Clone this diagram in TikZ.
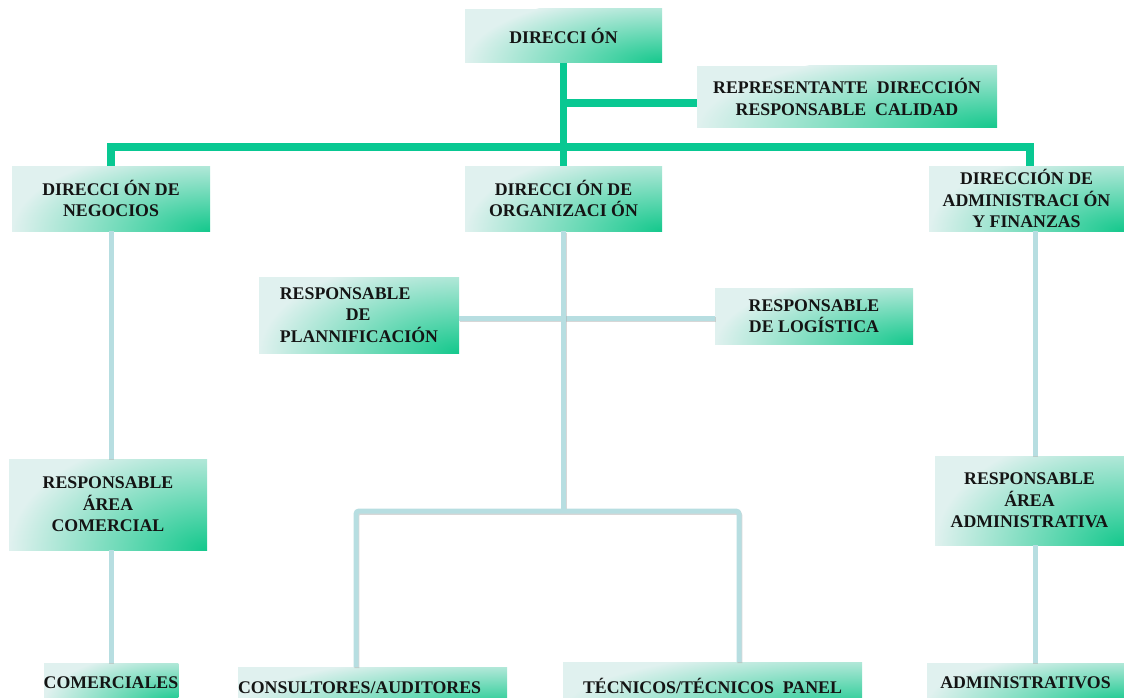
\documentclass[tikz,border=0pt]{standalone}
\usepackage{fontspec}
\setmainfont{Liberation Serif}
\usetikzlibrary{calc}
\definecolor{boxlight}{HTML}{E0F1EF}
\definecolor{boxgreen}{HTML}{14C88C}
\definecolor{glinec}{HTML}{08C892}
\definecolor{blinec}{HTML}{B7DEE1}
\newcommand\orgfont{\bfseries\fontsize{17.8}{21.5}\selectfont}
\newcommand\gap{\kern0.25em}
\tikzset{
  orgbox/.style={rectangle, inner sep=0pt, fill=boxlight, align=center,
    font=\orgfont, text=black!92,
    path picture={
      \shade[inner color=boxgreen, outer color=boxlight]
        let \p1=(path picture bounding box.south west),
            \p2=(path picture bounding box.north east) in
        (\x2,\y1) ellipse [x radius={\x2-\x1}, y radius={1.3*(\y2-\y1)}];
    }},
  gline/.style={draw=glinec, line width=7.5pt},
  bline/.style={draw=blinec, line width=5pt,
    preaction={draw=black!35, line width=5pt, opacity=0.45,
      transform canvas={shift={(0.8pt,-1.4pt)}}}},
}
\begin{document}
\begin{tikzpicture}[x=1pt,y=-1pt]
\useasboundingbox (0,0) rectangle (1124,698);
\clip (0,0) rectangle (1124,698);

% nodes
\node[orgbox, minimum width=197pt, minimum height=54pt] (dir) at (563.5,36)
  {DIRECCI\gap ÓN};
\node[orgbox, minimum width=300pt, minimum height=62pt] (rep) at (847,97)
  {REPRESENTANTE\ \ DIRECCIÓN\\RESPONSABLE\ \ CALIDAD};
\node[orgbox, minimum width=198pt, minimum height=65pt] (neg) at (111,198.5)
  {DIRECCI\gap ÓN DE\\NEGOCIOS};
\node[orgbox, minimum width=197pt, minimum height=65pt] (org) at (563.5,198.5)
  {DIRECCI\gap ÓN DE\\ORGANIZACI\gap ÓN};
\node[orgbox, minimum width=195pt, minimum height=65pt] (adm) at (1026.5,198.5)
  {DIRECCIÓN DE\\ADMINISTRACI\gap ÓN\\Y FINANZAS};
\node[orgbox, minimum width=200pt, minimum height=76pt, align=left] (pla) at (359,315)
  {RESPONSABLE\\\hspace*{66pt}DE\\PLANNIFICACIÓN};
\node[orgbox, minimum width=198pt, minimum height=56pt] (log) at (814,316)
  {RESPONSABLE\\DE LOGÍSTICA};
\node[orgbox, minimum width=198pt, minimum height=91pt] (rac) at (108,504.5)
  {RESPONSABLE\\ÁREA\\COMERCIAL};
\node[orgbox, minimum width=189pt, minimum height=89pt] (raa) at (1029.5,500.5)
  {RESPONSABLE\\ÁREA\\ADMINISTRATIVA};
\node[orgbox, minimum width=132pt, minimum height=40pt] (com) at (111,683)
  {COMERCIALES};
\node[orgbox, text width=269pt, minimum height=42pt, align=left] (con) at (372.5,688)
  {CONSULTORES/AUDITORES};
\node[orgbox, minimum width=299pt, minimum height=48pt] (tec) at (712.5,686)
  {TÉCNICOS/TÉCNICOS\ \ PANEL};
\node[orgbox, minimum width=197pt, minimum height=40pt] (adv) at (1025.5,683)
  {ADMINISTRATIVOS};

% helper coordinates
\coordinate (bar) at (0,147);
\coordinate (branch) at (0,103);
\coordinate (colL) at (111,0);
\coordinate (colG) at (1030,0);
\coordinate (colR) at (1035,0);
\coordinate (mid) at (0,318);
\coordinate (fork) at (0,511);
\coordinate (forkL) at (356,0);
\coordinate (forkR) at (739,0);

% green connectors
\draw[gline] (dir.south) -- (dir.south |- bar);
\draw[gline] (dir.south |- branch) -- (rep.west |- branch);
\draw[gline] (neg.north -| colL) -- (colL |- bar) -- (colG |- bar) -- (adm.north -| colG);
\draw[gline] (org.north) -- (org.north |- bar);

% light connectors
\draw[bline] (neg.south -| colL) -- (rac.north -| colL);
\draw[bline] (rac.south -| colL) -- (com.north -| colL);
\draw[bline] (pla.east |- mid) -- (log.west |- mid);
\draw[bline] (org.south) -- (org.south |- fork);
\draw[bline, rounded corners=3pt] (con.north -| forkL) -- (forkL |- fork) -- (forkR |- fork) -- (tec.north -| forkR);
\draw[bline] (adm.south -| colR) -- (raa.north -| colR);
\draw[bline] (raa.south -| colR) -- (adv.north -| colR);
\end{tikzpicture}
\end{document}
